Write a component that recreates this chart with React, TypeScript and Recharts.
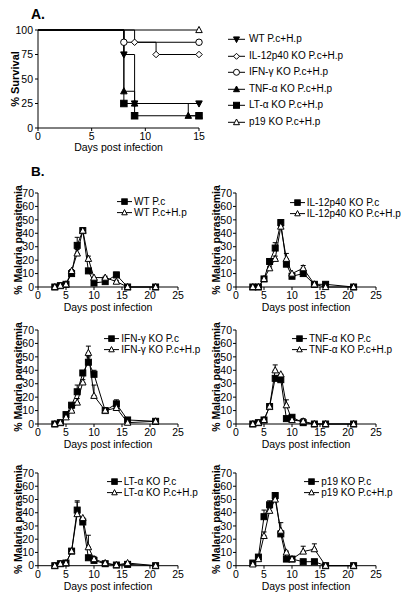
import React from 'react';
import { LineChart, Line, XAxis, YAxis, ErrorBar, Legend } from 'recharts';

const FONT = '"Liberation Sans", Arial, Helvetica, sans-serif';

// ---------- Panel A: survival ----------
const survTicksX = [0, 5, 10, 15];
const survTicksY = [0, 25, 50, 75, 100];

const wtSurvDays = [0, 8, 9, 15];
const wtSurv = [100, 75, 25, 25];
const il12SurvDays = [0, 9, 11, 15];
const il12Surv = [100, 87.5, 75, 75];
const ifnSurvDays = [0, 8, 15];
const ifnSurv = [100, 87.5, 87.5];
const tnfSurvDays = [0, 8, 9, 14, 15];
const tnfSurv = [100, 37.5, 25, 12.5, 12.5];
const ltSurvDays = [0, 8, 9, 15];
const ltSurv = [100, 25, 12.5, 12.5];
const p19SurvDays = [0, 15];
const p19Surv = [100, 100];

// ---------- Panel B: parasitemia ----------
const paraDays = [3, 4, 5, 6, 7, 8, 9, 10, 12, 14, 16, 21];
const paraTicksX = [0, 5, 10, 15, 20, 25];
const paraTicksY = [0, 10, 20, 30, 40, 50, 60, 70];

const wtPc = [0, 1, 2, 10, 31, 42, 12, 3, 4, 9, 0, 0];
const wtPcErr = [0, 0, 0, 0, 6, 2, 0, 0, 0, 2, 0, 0];
const wtPcHp = [0, 1, 2, 12, 25, 42, 21, 7, 7, 4, 0, 0];
const wtPcHpErr = [0, 0, 0, 1, 3, 0, 2, 0, 1, 1, 0, 0];

const il12Pc = [0, 0, 6, 19, 29, 48, 17, 8, 10, 2, 2, 0];
const il12PcErr = [0, 0, 0, 2, 4, 1, 0, 0, 1, 0, 0, 0];
const il12PcHp = [0, 0, 6, 14, 21, 45, 21, 10, 14, 2, 0, 0];
const il12PcHpErr = [0, 0, 0, 1, 2, 0, 4, 0, 2, 0, 0, 0];

const ifnPc = [0, 1, 7, 14, 24, 38, 46, 37, 10, 15, 3, 2];
const ifnPcErr = [0, 0, 0, 1, 5, 0, 4, 3, 0, 3, 0, 0];
const ifnPcHp = [0, 1, 5, 10, 16, 31, 53, 21, 10, 12, 1, 2];
const ifnPcHpErr = [0, 0, 0, 0, 3, 2, 5, 8, 0, 0, 0, 0];

const tnfPc = [0, 1, 3, 13, 34, 33, 4, 5, 1, 0, 0, 0];
const tnfPcErr = [0, 0, 0, 0, 1, 1, 0, 0, 0, 0, 0, 0];
const tnfPcHp = [0, 1, 3, 13, 40, 37, 14, 3, 2, 0, 0, 0];
const tnfPcHpErr = [0, 0, 0, 0, 4, 0, 4, 1, 2, 0, 0, 0];

const ltPc = [0, 1.5, 2, 11, 42, 33, 6, 4, 1.5, 0.5, 1, 0];
const ltPcErr = [0, 0, 0, 0, 6, 0, 0, 0, 0, 0, 0, 0];
const ltPcHp = [0, 1.5, 2, 11, 39, 36, 14, 5, 2, 0.5, 2, 0];
const ltPcHpErr = [0, 0, 0, 0, 10, 0, 9, 2, 0, 0, 0, 0];

const p19Pc = [2, 6.5, 37, 46, 53, 24, 5, 5, 3, 3, 0, 0];
const p19PcErr = [0, 0, 5, 3, 1, 0, 0, 0, 0, 0, 0, 0];
const p19PcHp = [1, 5, 22.5, 41.5, 50, 26.5, 10, 5, 10.7, 12.5, 0, 0];
const p19PcHpErr = [0, 0, 3, 2, 0, 6, 1, 0, 4, 4, 0, 0];

type Shape = 'triDown' | 'triUp' | 'square' | 'circle' | 'diamond';

function Marker({ shape, cx, cy, filled, size }: { shape: Shape; cx: number; cy: number; filled: boolean; size: number }) {
  const fill = filled ? '#000' : '#fff';
  const s = size;
  const common = { fill, stroke: '#000', strokeWidth: 1 };
  switch (shape) {
    case 'square':
      return <rect x={cx - s / 2} y={cy - s / 2} width={s} height={s} {...common} />;
    case 'circle':
      return <circle cx={cx} cy={cy} r={s / 2} {...common} />;
    case 'diamond':
      return <polygon points={`${cx},${cy - s / 2} ${cx + s / 2},${cy} ${cx},${cy + s / 2} ${cx - s / 2},${cy}`} {...common} />;
    case 'triUp':
      return <polygon points={`${cx},${cy - s * 0.55} ${cx + s / 2},${cy + s * 0.4} ${cx - s / 2},${cy + s * 0.4}`} {...common} />;
    case 'triDown':
    default:
      return <polygon points={`${cx},${cy + s * 0.55} ${cx + s / 2},${cy - s * 0.4} ${cx - s / 2},${cy - s * 0.4}`} {...common} />;
  }
}

const makeDot = (shape: Shape, filled: boolean, size: number, skipFirst: boolean) => (props: any) => {
  const { cx, cy, index } = props;
  if ((skipFirst && index === 0) || cx == null || cy == null) return <g key={`d-${index}`} />;
  return (
    <g key={`d-${index}`}>
      <Marker shape={shape} cx={cx} cy={cy} filled={filled} size={size} />
    </g>
  );
};

type LegendItem = { label: string; shape: Shape; filled: boolean };

function LegendBox({ items, rowH, fontSize, markerSize, iconW, gap }: { items: LegendItem[]; rowH: number; fontSize: number; markerSize: number; iconW: number; gap: number }) {
  return (
    <div style={{ fontFamily: FONT, fontSize, color: '#000' }}>
      {items.map((it) => (
        <div key={it.label} style={{ display: 'flex', alignItems: 'center', height: rowH, whiteSpace: 'nowrap' }}>
          <svg width={iconW} height={rowH} style={{ display: 'block', overflow: 'visible' }}>
            <line x1={0} x2={iconW} y1={rowH / 2} y2={rowH / 2} stroke="#000" strokeWidth={1} />
            <Marker shape={it.shape} cx={iconW / 2} cy={rowH / 2} filled={it.filled} size={markerSize} />
          </svg>
          <span style={{ marginLeft: gap, lineHeight: `${rowH}px` }}>{it.label}</span>
        </div>
      ))}
    </div>
  );
}

const axisProps = {
  axisLine: { stroke: '#000', strokeWidth: 1 },
  tickLine: { stroke: '#000', strokeWidth: 1 },
  tick: { fill: '#000', fontSize: 10.5, fontFamily: FONT },
  tickSize: 3,
  interval: 0 as const,
};

const survSeries = [
  { name: 'WT P.c+H.p', days: wtSurvDays, vals: wtSurv, shape: 'triDown' as Shape, filled: true },
  { name: 'TNF-α KO P.c+H.p', days: tnfSurvDays, vals: tnfSurv, shape: 'triUp' as Shape, filled: true },
  { name: 'LT-α KO P.c+H.p', days: ltSurvDays, vals: ltSurv, shape: 'square' as Shape, filled: true },
  { name: 'IL-12p40 KO P.c+H.p', days: il12SurvDays, vals: il12Surv, shape: 'diamond' as Shape, filled: false },
  { name: 'IFN-γ KO P.c+H.p', days: ifnSurvDays, vals: ifnSurv, shape: 'circle' as Shape, filled: false },
  { name: 'p19 KO P.c+H.p', days: p19SurvDays, vals: p19Surv, shape: 'triUp' as Shape, filled: false },
];

const survLegendOrder: LegendItem[] = [
  { label: 'WT P.c+H.p', shape: 'triDown', filled: true },
  { label: 'IL-12p40 KO P.c+H.p', shape: 'diamond', filled: false },
  { label: 'IFN-γ KO P.c+H.p', shape: 'circle', filled: false },
  { label: 'TNF-α KO P.c+H.p', shape: 'triUp', filled: true },
  { label: 'LT-α KO P.c+H.p', shape: 'square', filled: true },
  { label: 'p19 KO P.c+H.p', shape: 'triUp', filled: false },
];

function SurvivalPanel() {
  const plotW = 161;
  const W = 414;
  return (
    <div style={{ position: 'absolute', left: 0, top: 20 }}>
      <LineChart width={W} height={138} margin={{ top: 10, right: W - 38 - plotW, left: 0, bottom: 0 }}>
        <XAxis
          dataKey="day"
          type="number"
          domain={[0, 15]}
          ticks={survTicksX}
          height={30}
          tickMargin={2}
          {...axisProps}
          label={{ value: 'Days post infection', position: 'insideBottom', offset: 7, fill: '#000', fontSize: 10.5, fontFamily: FONT }}
        />
        <YAxis
          type="number"
          domain={[0, 100]}
          ticks={survTicksY}
          width={38}
          tickMargin={2}
          {...axisProps}
          label={{ value: '% Survival', angle: -90, position: 'insideLeft', offset: 15, fill: '#000', fontSize: 11, fontWeight: 'bold', fontFamily: FONT, style: { textAnchor: 'middle' } }}
        />
        {survSeries.map((s) => (
          <Line
            key={s.name}
            name={s.name}
            data={s.days.map((d, i) => ({ day: d, v: s.vals[i] }))}
            dataKey="v"
            type="stepAfter"
            stroke="#000"
            strokeWidth={1}
            dot={makeDot(s.shape, s.filled, 6.5, true)}
            activeDot={false}
            isAnimationActive={false}
          />
        ))}
        <Legend
          layout="vertical"
          align="center"
          verticalAlign="middle"
          content={() => <LegendBox items={survLegendOrder} rowH={16.6} fontSize={10} markerSize={6} iconW={17} gap={4} />}
          wrapperStyle={{ left: 228, top: 11, width: 180, height: 100 }}
        />
      </LineChart>
    </div>
  );
}

type ParaProps = {
  x: number;
  y: number;
  plotH: number;
  pc: number[];
  pcErr: number[];
  hp: number[];
  hpErr: number[];
  labelPc: string;
  labelHp: string;
  legendX: number;
  legendY: number;
};

function ParaPanel({ x, y, plotH, pc, pcErr, hp, hpErr, labelPc, labelHp, legendX, legendY }: ParaProps) {
  const data = paraDays.map((d, i) => ({
    day: d,
    pc: pc[i],
    pcErr: [0, pcErr[i]],
    hp: hp[i],
    hpErr: [0, hpErr[i]],
  }));
  const W = 190;
  const plotW = 140;
  const top = 10;
  const xh = 30;
  const items: LegendItem[] = [
    { label: labelPc, shape: 'square', filled: true },
    { label: labelHp, shape: 'triUp', filled: false },
  ];
  return (
    <div style={{ position: 'absolute', left: x, top: y }}>
      <LineChart width={W} height={top + plotH + xh} data={data} margin={{ top, right: W - 38 - plotW, left: 0, bottom: 0 }}>
        <XAxis
          dataKey="day"
          type="number"
          domain={[0, 25]}
          ticks={paraTicksX}
          height={xh}
          tickMargin={2}
          {...axisProps}
          label={{ value: 'Days post infection', position: 'insideBottom', offset: 6, fill: '#000', fontSize: 10.5, fontFamily: FONT }}
        />
        <YAxis
          type="number"
          domain={[0, 70]}
          ticks={paraTicksY}
          width={38}
          tickMargin={1}
          {...axisProps}
          label={{ value: '% Malaria parasitemia', angle: -90, position: 'insideLeft', offset: 18.5, fill: '#000', fontSize: 10.5, fontWeight: 'bold', fontFamily: FONT, style: { textAnchor: 'middle' } }}
        />
        <Line
          name={labelPc}
          dataKey="pc"
          type="linear"
          stroke="#000"
          strokeWidth={1}
          dot={makeDot('square', true, 6, false)}
          activeDot={false}
          isAnimationActive={false}
        >
          <ErrorBar dataKey="pcErr" direction="y" width={2.5} stroke="#000" strokeWidth={1} />
        </Line>
        <Line
          name={labelHp}
          dataKey="hp"
          type="linear"
          stroke="#000"
          strokeWidth={1}
          dot={makeDot('triUp', false, 6.5, false)}
          activeDot={false}
          isAnimationActive={false}
        >
          <ErrorBar dataKey="hpErr" direction="y" width={2.5} stroke="#000" strokeWidth={1} />
        </Line>
        <Legend
          layout="vertical"
          align="center"
          verticalAlign="middle"
          content={() => <LegendBox items={items} rowH={11.2} fontSize={10} markerSize={5.5} iconW={15} gap={2} />}
          wrapperStyle={{ left: legendX, top: legendY, width: 120, height: 24 }}
        />
      </LineChart>
    </div>
  );
}

export default function App() {
  return (
    <div style={{ position: 'absolute', left: 0, top: 0, width: 414, height: 599, background: '#fff', fontFamily: FONT }}>
      <div style={{ position: 'absolute', left: 31, top: 6, fontSize: 14, fontWeight: 'bold', fontFamily: FONT }}>A.</div>
      <div style={{ position: 'absolute', left: 31, top: 164, fontSize: 13.5, fontWeight: 'bold', fontFamily: FONT }}>B.</div>
      <SurvivalPanel />
      <ParaPanel x={0} y={183} plotH={94} pc={wtPc} pcErr={wtPcErr} hp={wtPcHp} hpErr={wtPcHpErr} labelPc="WT P.c" labelHp="WT P.c+H.p" legendX={117} legendY={13} />
      <ParaPanel x={198.3} y={183} plotH={94} pc={il12Pc} pcErr={il12PcErr} hp={il12PcHp} hpErr={il12PcHpErr} labelPc="IL-12p40 KO P.c" labelHp="IL-12p40 KO P.c+H.p" legendX={91.4} legendY={14} />
      <ParaPanel x={0} y={319.5} plotH={94} pc={ifnPc} pcErr={ifnPcErr} hp={ifnPcHp} hpErr={ifnPcHpErr} labelPc="IFN-γ KO P.c" labelHp="IFN-γ KO P.c+H.p" legendX={104.3} legendY={13.2} />
      <ParaPanel x={198.3} y={319.5} plotH={94} pc={tnfPc} pcErr={tnfPcErr} hp={tnfPcHp} hpErr={tnfPcHpErr} labelPc="TNF-α KO P.c" labelHp="TNF-α KO P.c+H.p" legendX={93.7} legendY={13.2} />
      <ParaPanel x={0} y={463.3} plotH={92.7} pc={ltPc} pcErr={ltPcErr} hp={ltPcHp} hpErr={ltPcHpErr} labelPc="LT-α KO P.c" labelHp="LT-α KO P.c+H.p" legendX={106.7} legendY={12.8} />
      <ParaPanel x={198.3} y={463.3} plotH={92.7} pc={p19Pc} pcErr={p19PcErr} hp={p19PcHp} hpErr={p19PcHpErr} labelPc="p19 KO P.c" labelHp="p19 KO P.c+H.p" legendX={106} legendY={12.8} />
    </div>
  );
}
